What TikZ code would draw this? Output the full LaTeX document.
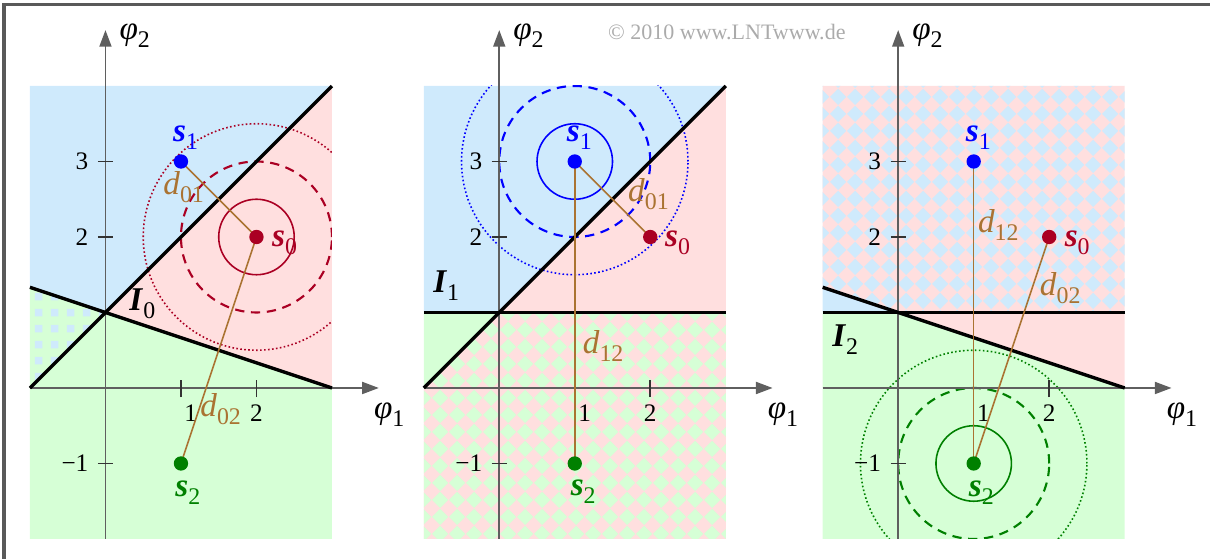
\documentclass[tikz,border=0pt]{standalone}
\usepackage{fontspec}
\setmainfont{Liberation Serif}
\usetikzlibrary{arrows.meta,patterns}

\definecolor{bluefill}{RGB}{207,234,252}
\definecolor{pinkfill}{RGB}{255,223,223}
\definecolor{greenfill}{RGB}{214,255,214}
\definecolor{sred}{RGB}{170,0,35}
\definecolor{sgreen}{RGB}{0,128,0}
\definecolor{sblue}{RGB}{0,0,255}
\definecolor{dbrown}{RGB}{170,115,50}
\definecolor{axisgray}{RGB}{95,95,95}

% rotated checkerboard and small squares
\pgfdeclarepatternformonly{diamonds}{\pgfpoint{0cm}{0cm}}{\pgfpoint{0.22cm}{0.22cm}}{\pgfpoint{0.22cm}{0.22cm}}{
  \pgfpathmoveto{\pgfpoint{0.11cm}{0cm}}
  \pgfpathlineto{\pgfpoint{0.22cm}{0.11cm}}
  \pgfpathlineto{\pgfpoint{0.11cm}{0.22cm}}
  \pgfpathlineto{\pgfpoint{0cm}{0.11cm}}
  \pgfpathclose
  \pgfusepath{fill}}
\pgfdeclarepatternformonly{smallsquares}{\pgfpoint{0cm}{0cm}}{\pgfpoint{0.21cm}{0.21cm}}{\pgfpoint{0.21cm}{0.21cm}}{
  \pgfpathrectangle{\pgfpoint{0.05cm}{0.05cm}}{\pgfpoint{0.1cm}{0.1cm}}
  \pgfusepath{fill}}

\newcommand{\sub}[2]{#1\raisebox{-3pt}{\fontsize{9}{9}\selectfont #2}}

\tikzset{
  axis/.style={axisgray, line width=0.6pt, -{Triangle[length=0.22cm,width=0.16cm]}},
  tick/.style={black!80, line width=0.6pt},
  bound/.style={black, line width=1.3pt},
  dist/.style={dbrown, line width=0.6pt},
  dot/.style={circle, fill, inner sep=0pt, minimum size=0.19cm},
  lbl/.style={font=\fontsize{12.5}{12.5}\selectfont, inner sep=0pt, anchor=base west},
  tlbl/.style={font=\fontsize{9.5}{9.5}\selectfont, inner sep=0pt},
  ringa/.style={line width=0.6pt},
  ringb/.style={line width=0.8pt, dash pattern=on 3.5pt off 2.5pt},
  ringc/.style={line width=0.6pt, dash pattern=on 0.6pt off 0.9pt}
}

\begin{document}
\begin{tikzpicture}
  \useasboundingbox (-1.397,-2.252) rectangle (14.63,5.139);
  \draw[black!65, line width=1.2pt] (-1.344,-2.3) -- (-1.344,5.08) -- (14.7,5.08);
  \node[text=black!33, font=\fontsize{8.3}{8.3}\selectfont] (copy) at (8.23,4.72) {© 2010 www.LNTwww.de};

  % I_0
  \begin{scope}
    \fill[bluefill] (-1,4) -- (3,4) -- (0,1) -- (-1,4/3) -- cycle;
    \fill[pinkfill] (3,4) -- (3,0) -- (0,1) -- cycle;
    \fill[greenfill] (-1,4/3) -- (0,1) -- (-1,0) -- cycle;
    \fill[pattern=smallsquares, pattern color=bluefill] (-1,4/3) -- (0,1) -- (-1,0) -- cycle;
    \fill[greenfill] (-1,0) -- (0,1) -- (3,0) -- (3,-2) -- (-1,-2) -- cycle;
    \begin{scope}[sred]
      \clip (-1,-2) rectangle (3,4);
      \draw[ringa] (2,2) circle (0.5);
      \draw[ringb] (2,2) circle (1);
      \draw[ringc] (2,2) circle (1.5);
    \end{scope}
  \end{scope}

  % I_1
  \begin{scope}[xshift=5.216cm]
    \fill[bluefill] (-1,4) -- (3,4) -- (0,1) -- (-1,1) -- cycle;
    \fill[pinkfill] (3,4) -- (3,1) -- (0,1) -- cycle;
    \fill[greenfill] (-1,1) -- (0,1) -- (-1,0) -- cycle;
    \fill[pinkfill] (-1,0) -- (0,1) -- (3,1) -- (3,-2) -- (-1,-2) -- cycle;
    \fill[pattern=diamonds, pattern color=greenfill] (-1,0) -- (0,1) -- (3,1) -- (3,-2) -- (-1,-2) -- cycle;
    \begin{scope}[sblue]
      \clip (-1,-2) rectangle (3,4);
      \draw[ringa] (1,3) circle (0.5);
      \draw[ringb] (1,3) circle (1);
      \draw[ringc] (1,3) circle (1.5);
    \end{scope}
  \end{scope}

  % I_2
  \begin{scope}[xshift=10.5cm]
    \fill[pinkfill] (-1,4) -- (3,4) -- (3,1) -- (0,1) -- (-1,4/3) -- cycle;
    \fill[pattern=diamonds, pattern color=bluefill] (-1,4) -- (3,4) -- (3,1) -- (0,1) -- (-1,4/3) -- cycle;
    \fill[bluefill] (-1,4/3) -- (0,1) -- (-1,1) -- cycle;
    \fill[pinkfill] (0,1) -- (3,1) -- (3,0) -- cycle;
    \fill[greenfill] (-1,1) -- (0,1) -- (3,0) -- (3,-2) -- (-1,-2) -- cycle;
    \begin{scope}[sgreen]
      \clip (-1,-2) rectangle (3,4);
      \draw[ringa] (1,-1) circle (0.5);
      \draw[ringb] (1,-1) circle (1);
      \draw[ringc] (1,-1) circle (1.5);
    \end{scope}
  \end{scope}

  % axes and ticks
  \foreach \dx/\p in {0/a,5.216/b,10.5/c}{
    \begin{scope}[xshift=\dx cm]
      \draw[axis] (0,-2) -- (0,4.74);
      \draw[axis] (-1,0) -- (3.62,0);
      \node[lbl] (phiy\p) at (0.18,4.62) {\sub{\textit{φ}}{2}};
      \node[lbl] (phix\p) at (3.55,-0.41) {\sub{\textit{φ}}{1}};
      \foreach \y/\t/\n in {-1/−1/m,2/2/b,3/3/c}{
        \draw[tick] (-0.1,\y) -- (0.1,\y);
        \node[tlbl, anchor=east] (ty\n\p) at (-0.22,\y) {\t};
      }
      \foreach \x/\lx in {1/1.13,2/2.0}{
        \draw[tick] (\x,-0.12) -- (\x,0.1);
        \node[tlbl] (tx\x\p) at (\lx,-0.33) {\x};
      }
    \end{scope}
  }

  % boundaries
  \draw[bound] (-1,0) -- (3,4);
  \draw[bound] (-1,4/3) -- (3,0);
  \begin{scope}[xshift=5.216cm]
    \draw[bound] (-1,0) -- (3,4);
    \draw[bound] (-1,1) -- (3,1);
  \end{scope}
  \begin{scope}[xshift=10.5cm]
    \draw[bound] (-1,4/3) -- (3,0);
    \draw[bound] (-1,1) -- (3,1);
  \end{scope}

  % signal points, distances and labels
  \begin{scope}
    \coordinate (s0a) at (2,2);
    \coordinate (s1a) at (1,3);
    \coordinate (s2a) at (1,-1);
    \draw[dist] (s1a) -- (s0a);
    \draw[dist] (s0a) -- (s2a);
    \node[dot, sred] (p0a) at (s0a) {};
    \node[dot, sblue] (p1a) at (s1a) {};
    \node[dot, sgreen] (p2a) at (s2a) {};
    \node[lbl, sblue] (l1a) at (0.89,3.26) {\sub{\textbf{\textit{s}}}{1}};
    \node[lbl, sred] (l0a) at (2.2,1.87) {\sub{\textbf{\textit{s}}}{0}};
    \node[lbl, sgreen] (l2a) at (0.92,-1.44) {\sub{\textbf{\textit{s}}}{2}};
    \node[lbl, dbrown] (d01a) at (0.76,2.56) {\sub{\textit{d}}{01}};
    \node[lbl, dbrown] (d02a) at (1.25,-0.38) {\sub{\textit{d}}{02}};
    \node[lbl] (ia) at (0.31,1.03) {\sub{\textbf{\textit{I}}}{0}};
  \end{scope}

  \begin{scope}[xshift=5.216cm]
    \coordinate (s0b) at (2,2);
    \coordinate (s1b) at (1,3);
    \coordinate (s2b) at (1,-1);
    \draw[dist] (s1b) -- (s0b);
    \draw[dist] (s1b) -- (s2b);
    \node[dot, sred] (p0b) at (s0b) {};
    \node[dot, sblue] (p1b) at (s1b) {};
    \node[dot, sgreen] (p2b) at (s2b) {};
    \node[lbl, sblue] (l1b) at (0.89,3.26) {\sub{\textbf{\textit{s}}}{1}};
    \node[lbl, sred] (l0b) at (2.19,1.87) {\sub{\textbf{\textit{s}}}{0}};
    \node[lbl, sgreen] (l2b) at (0.94,-1.42) {\sub{\textbf{\textit{s}}}{2}};
    \node[lbl, dbrown] (d01b) at (1.7,2.47) {\sub{\textit{d}}{01}};
    \node[lbl, dbrown] (d12b) at (1.1,0.46) {\sub{\textit{d}}{12}};
    \node[lbl] (ib) at (-0.88,1.27) {\sub{\textbf{\textit{I}}}{1}};
  \end{scope}

  \begin{scope}[xshift=10.5cm]
    \coordinate (s0c) at (2,2);
    \coordinate (s1c) at (1,3);
    \coordinate (s2c) at (1,-1);
    \draw[dist] (s1c) -- (s2c);
    \draw[dist] (s0c) -- (s2c);
    \node[dot, sred] (p0c) at (s0c) {};
    \node[dot, sblue] (p1c) at (s1c) {};
    \node[dot, sgreen] (p2c) at (s2c) {};
    \node[lbl, sblue] (l1c) at (0.89,3.26) {\sub{\textbf{\textit{s}}}{1}};
    \node[lbl, sred] (l0c) at (2.2,1.87) {\sub{\textbf{\textit{s}}}{0}};
    \node[lbl, sgreen] (l2c) at (0.93,-1.44) {\sub{\textbf{\textit{s}}}{2}};
    \node[lbl, dbrown] (d12c) at (1.05,2.06) {\sub{\textit{d}}{12}};
    \node[lbl, dbrown] (d02c) at (1.87,1.23) {\sub{\textit{d}}{02}};
    \node[lbl] (ic) at (-0.88,0.55) {\sub{\textbf{\textit{I}}}{2}};
  \end{scope}
\end{tikzpicture}
\end{document}
